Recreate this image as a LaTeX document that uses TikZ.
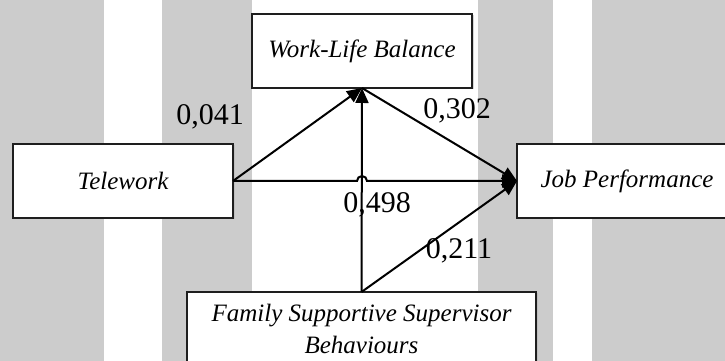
\documentclass[tikz,border=0pt]{standalone}
\usepackage{fontspec}
\setmainfont{Liberation Serif}
\usepackage{tikz}
\usetikzlibrary{arrows.meta, shadows}
\definecolor{bandgray}{RGB}{204, 204, 204}
\definecolor{boxline}{RGB}{30, 30, 30}

\tikzset{
  varbox/.style={draw=boxline, line width=1.5pt, fill=white,
    minimum width=220pt, minimum height=74pt, inner sep=0pt, outer sep=0pt,
    align=center, font=\fontsize{25}{32}\selectfont\itshape,
    drop shadow={shadow xshift=1.5pt, shadow yshift=-1.5pt, fill=black!30, opacity=0.5}},
  coef/.style={anchor=base, font=\fontsize{30}{36}\selectfont},
  effect/.style={line width=2pt, -{Triangle[length=15pt, width=13pt]}}
}

\begin{document}
\begin{tikzpicture}[x=1pt, y=1pt]
    \useasboundingbox (0,0) rectangle (725,361);
    \clip (0,0) rectangle (725,361);

    % background bands
    \fill[bandgray] (0,0) rectangle (725,361);
    \fill[white] (104,0) rectangle (162,361);
    \fill[white] (252,0) rectangle (478,361);
    \fill[white] (553,0) rectangle (592,361);

    % variables
    \node[varbox] (wlb) at (362,310) {Work-Life Balance};
    \node[varbox] (tw) at (123,180) {Telework};
    \node[varbox] (jp) at (627,180) {Job Performance};
    \node[varbox, minimum width=349pt] (fssb) at (361.5,32) {Family Supportive Supervisor\\Behaviours};

    % paths
    \draw[effect] (tw.east) -- (wlb.south);
    \draw[effect] (fssb.north) -- (wlb.south);
    \draw[effect] (wlb.south) -- (jp.west);
    \draw[effect] (fssb.north) -- (jp.west);
    \draw[effect] (tw.east) -- ([xshift=-5pt]tw.east -| wlb.south)
        arc[start angle=180, end angle=0, radius=5pt] -- (jp.west);

    % coefficients
    \node[coef] (c1) at (210,236) {0,041};
    \node[coef] (c2) at (457,242) {0,302};
    \node[coef] (c3) at (377,148) {0,498};
    \node[coef] (c4) at (459,102) {0,211};
\end{tikzpicture}
\end{document}
